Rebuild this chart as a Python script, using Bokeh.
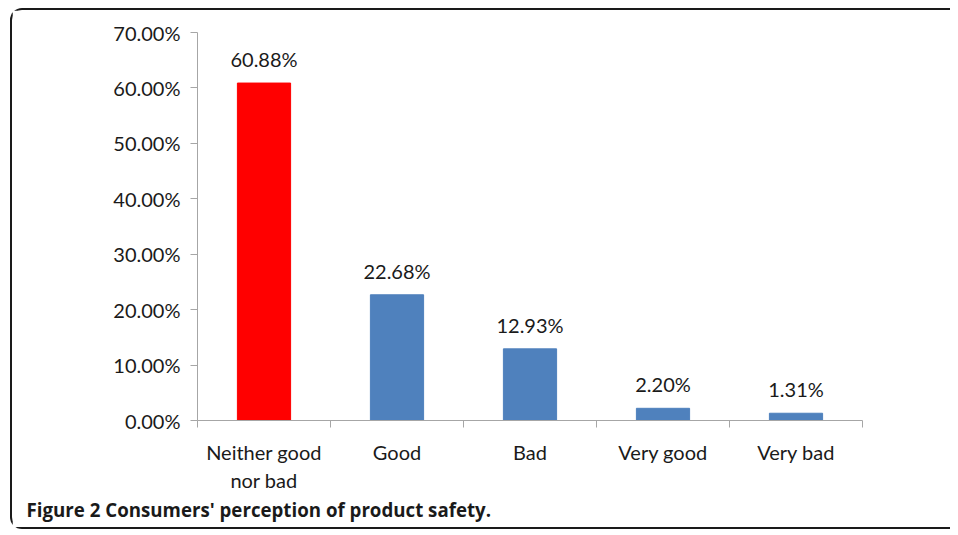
from bokeh.plotting import figure
from bokeh.models import (Range1d, FixedTicker, PrintfTickFormatter, ColumnDataSource,
                          Title, InlineStyleSheet, LinearAxis)
from bokeh.core.properties import value
from bokeh.embed import file_html
from bokeh.resources import INLINE

categories = ["Neither good\nnor bad", "Good", "Bad", "Very good", "Very bad"]
percent = [60.88, 22.68, 12.93, 2.20, 1.31]
bar_colors = ["#FF0000", "#4F81BD", "#4F81BD", "#4F81BD", "#4F81BD"]
y_ticks = [0, 10, 20, 30, 40, 50, 60, 70]
caption = "Figure 2 Consumers' perception of product safety."

FONT = "Lato"
AXIS_GRAY = "#A6A6A6"

xs = [i + 0.5 for i in range(len(categories))]
src = ColumnDataSource(dict(x=xs, top=percent, color=bar_colors,
                            label=[f"{v:.2f}%" for v in percent]))

p = figure(width=940, height=521, output_backend="svg", toolbar_location=None,
           x_range=Range1d(0, len(categories)), y_range=Range1d(0, 70),
           min_border_left=185, min_border_right=90, min_border_top=22,
           min_border_bottom=111, x_axis_type=None, y_axis_type=None)
p.stylesheets = [InlineStyleSheet(css=":host { margin-left: 10px; margin-top: 8px; "
                                      "border-top: 2px solid #1a1a1a; border-left: 2px solid #1a1a1a; "
                                      "border-bottom: 2px solid #1a1a1a; "
                                      "border-top-left-radius: 12px; border-bottom-left-radius: 12px; }")]
p.outline_line_color = None
p.grid.visible = False
p.background_fill_color = "white"
p.border_fill_color = "white"

p.vbar(x="x", top="top", width=0.4, bottom=0, color="color", source=src)
p.text(x="x", y="top", text="label", source=src, y_offset=-12,
       text_align="center", text_baseline="bottom",
       text_font=value(FONT), text_font_size="20px", text_color="#1a1a1a")

yaxis = LinearAxis(ticker=FixedTicker(ticks=y_ticks),
                   formatter=PrintfTickFormatter(format="%.2f%%"))
yaxis.axis_line_color = AXIS_GRAY
yaxis.major_tick_line_color = AXIS_GRAY
yaxis.major_tick_in = 0
yaxis.major_tick_out = 7
yaxis.minor_tick_line_color = None
yaxis.major_label_standoff = 10
yaxis.major_label_text_font = FONT
yaxis.major_label_text_font_size = "20px"
yaxis.major_label_text_color = "#1a1a1a"
p.add_layout(yaxis, "left")

xaxis = LinearAxis(ticker=FixedTicker(ticks=xs, minor_ticks=list(range(len(categories) + 1))))
xaxis.major_label_overrides = {x: c for x, c in zip(xs, categories)}
xaxis.axis_line_color = AXIS_GRAY
xaxis.major_tick_line_color = None
xaxis.minor_tick_line_color = AXIS_GRAY
xaxis.minor_tick_in = 0
xaxis.minor_tick_out = 7
xaxis.major_tick_out = 7
xaxis.major_label_standoff = 12
xaxis.major_label_text_font = FONT
xaxis.major_label_text_font_size = "20px"
xaxis.major_label_text_color = "#1a1a1a"
p.add_layout(xaxis, "below")

p.add_layout(Title(text=caption, align="left", offset=-171, standoff=-2,
                   text_font="Open Sans", text_font_style="bold", text_font_size="18.7px",
                   text_color="#1a1a1a"), "below")

open("out.html", "w").write(file_html(p, INLINE))
